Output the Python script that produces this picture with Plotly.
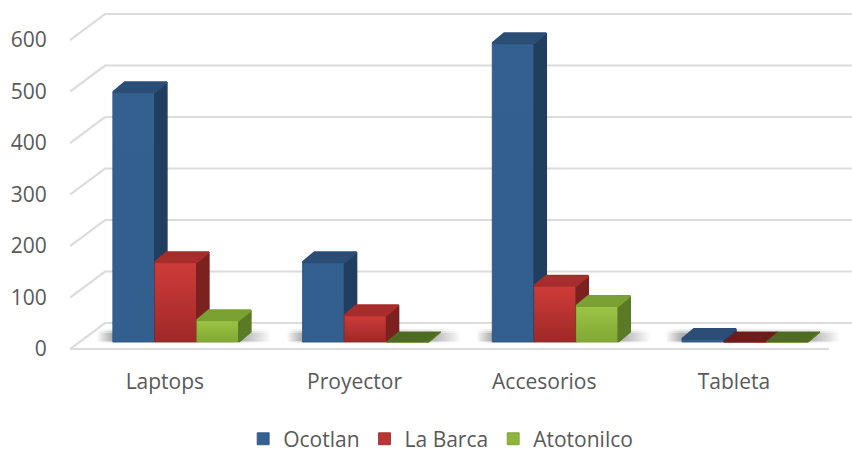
import plotly.graph_objects as go

categories = ["Laptops", "Proyector", "Accesorios", "Tableta"]
ocotlan = [485, 155, 580, 6]
la_barca = [155, 52, 109, 0]
atotonilco = [42, 0, 70, 0]
y_ticks = [0, 100, 200, 300, 400, 500, 600]

series = [
    dict(name="Ocotlan", values=ocotlan, front="#33608e", edge="#2c527d", top="#2b4d76", side="#203f60",
         flat="#2b5a8e", light="rgba(52,96,143,0.35)", dark="rgba(48,92,140,0.25)"),
    dict(name="La Barca", values=la_barca, front="#b93433", edge="#8f2a29", top="#a62d2b", side="#7b2120",
         flat="#6f1b1b", light="rgba(214,62,60,0.75)", dark="rgba(150,38,36,0.80)"),
    dict(name="Atotonilco", values=atotonilco, front="#8db53a", edge="#739a2e", top="#7aa131", side="#5b7a25",
         flat="#4f6b22", light="rgba(160,200,72,0.8)", dark="rgba(125,165,50,0.8)"),
]

# scales: pixels per unit of the axes
PX_X = 189.7
PX_Y = 0.515
X0, X1 = -0.5, -0.5 + 782 / PX_X
Y0, Y1 = -11 / PX_Y, 339 / PX_Y


def ux(p):
    return p / PX_X


def uy(p):
    return p / PX_Y


BASE = uy(7)
BAR_W = ux(42)
DX, DY = ux(12), uy(10)
WALL_X, WALL_Y = ux(35), uy(26)
OFFSETS = [ux(-31), ux(11), ux(53)]
xs = list(range(len(categories)))

fig = go.Figure()
GRID = "#dcdcdc"

for t in y_ticks:
    if t == 0:
        px_list, py_list = [X0, 3.5, None, X0, X0 + WALL_X, X1], [0, 0, None, 0, WALL_Y, WALL_Y]
    else:
        px_list, py_list = [X0, X0 + WALL_X, X1], [t, t + WALL_Y, t + WALL_Y]
    fig.add_trace(go.Scatter(x=px_list, y=py_list, mode="lines", line=dict(color=GRID, width=2.2),
                             hoverinfo="skip", showlegend=False, cliponaxis=False))

# soft floor shadows
for i in xs:
    x_a = i + OFFSETS[0] - BAR_W / 2 - ux(16)
    x_b = i + OFFSETS[2] + BAR_W / 2 + ux(32)
    for y_lo, y_hi, a in [(BASE - uy(1), BASE + uy(13), 0.10), (BASE, BASE + uy(11), 0.16), (BASE + uy(1), BASE + uy(9), 0.22)]:
        fig.add_trace(go.Scatter(
            x=[x_a, x_b, x_b, x_a, x_a], y=[y_lo, y_lo, y_hi, y_hi, y_lo],
            mode="lines", line=dict(width=0), fill="toself", fillcolor="rgba(0,0,0,0)",
            fillgradient=dict(type="horizontal", colorscale=[
                [0, "rgba(60,60,60,0)"], [0.09, f"rgba(60,60,60,{a})"], [0.82, f"rgba(60,60,60,{a})"],
                [1, "rgba(60,60,60,0)"]]),
            hoverinfo="skip", showlegend=False))

# one overlaid subplot per series so later series paint over earlier ones
for k, s in enumerate(series):
    n = k + 2
    xa, ya = f"x{n}", f"y{n}"
    fig.add_trace(go.Bar(
        x=[i + OFFSETS[k] for i in xs], y=s["values"], base=BASE, width=BAR_W, name=s["name"],
        marker=dict(color=s["front"], line=dict(color=s["edge"], width=0.8)),
        xaxis=xa, yaxis=ya, hovertemplate="%{y}<extra>" + s["name"] + "</extra>"))
    side_x, side_y, tx, ty = [], [], [], []
    for i, v in zip(xs, s["values"]):
        l = i + OFFSETS[k] - BAR_W / 2
        r = l + BAR_W
        t = BASE + v
        side_x += [r, r + DX, r + DX, r, r, None]
        side_y += [BASE, BASE + DY, t + DY, t, BASE, None]
        if v >= 1:
            tx += [l, l + DX, r + DX, r, l, None]
            ty += [t, t + DY, t + DY, t, t, None]
            fig.add_trace(go.Scatter(
                x=[l, r, r, l, l], y=[BASE, BASE, t, t, BASE], mode="lines", line=dict(width=0),
                fill="toself", fillcolor="rgba(0,0,0,0)",
                fillgradient=dict(type="vertical", colorscale=[[0, s["dark"]], [1, s["light"]]]),
                xaxis=xa, yaxis=ya, hoverinfo="skip", showlegend=False))
        else:
            fig.add_trace(go.Scatter(
                x=[l, l + DX, r + DX, r, l], y=[t, t + DY, t + DY, t, t], mode="lines",
                line=dict(width=0.8, color=s["flat"]),
                fill="toself", fillcolor=s["flat"], xaxis=xa, yaxis=ya, hoverinfo="skip", showlegend=False))
    fig.add_trace(go.Scatter(x=side_x, y=side_y, mode="lines", line=dict(width=1.6, color=s["side"]), fill="toself",
                             fillcolor=s["side"], xaxis=xa, yaxis=ya, hoverinfo="skip", showlegend=False))
    if tx:
        fig.add_trace(go.Scatter(x=tx, y=ty, mode="lines", line=dict(width=2, color=s["top"]), fill="toself",
                                 fillcolor=s["top"], xaxis=xa, yaxis=ya, hoverinfo="skip", showlegend=False))

FONT = dict(family="Open Sans", size=21, color="#595959")
layout = dict(
    width=852, height=449, paper_bgcolor="white", plot_bgcolor="white",
    margin=dict(l=70, r=0, t=10, b=89, autoexpand=False), barmode="overlay", font=FONT,
    xaxis=dict(range=[X0, X1], tickvals=xs, ticktext=categories, showgrid=False, zeroline=False,
               showline=False, ticks="outside", ticklen=3, tickcolor="rgba(0,0,0,0)"),
    yaxis=dict(range=[Y0, Y1], tickvals=y_ticks, showgrid=False, zeroline=False, showline=False,
               ticks="outside", ticklen=18, tickcolor="rgba(0,0,0,0)"),
    legend=dict(orientation="h", x=0.474, y=-0.226, xanchor="center", yanchor="middle",
                font=FONT, itemwidth=30, maxheight=60),
)
for k in range(len(series)):
    n = k + 2
    layout[f"xaxis{n}"] = dict(range=[X0, X1], overlaying="x", visible=False)
    layout[f"yaxis{n}"] = dict(range=[Y0, Y1], overlaying="y", visible=False)
fig.update_layout(**layout)
fig.write_html("out.html", config=dict(displayModeBar=False), post_script="document.body.style.margin='0';")
